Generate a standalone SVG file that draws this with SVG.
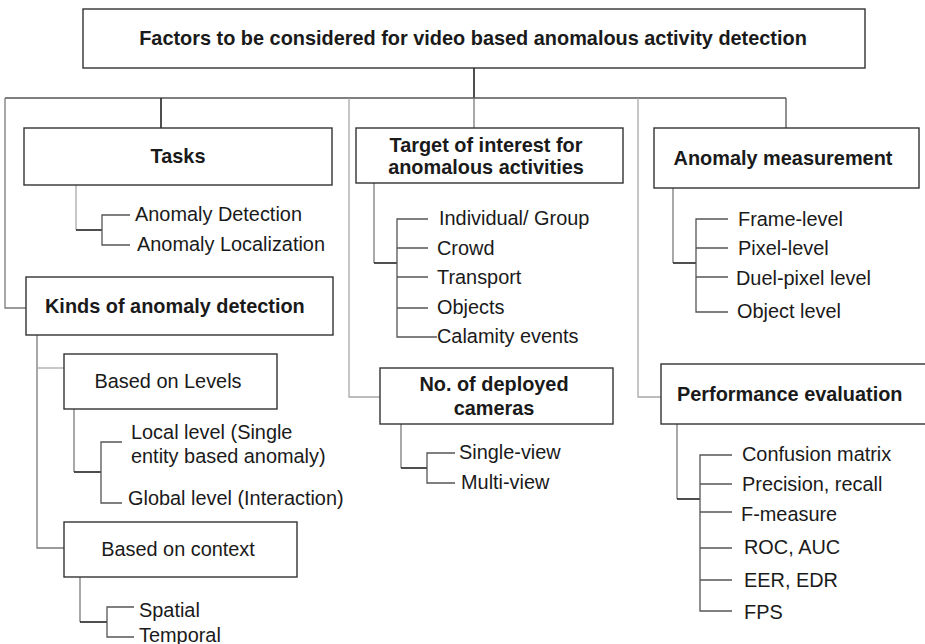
<svg xmlns="http://www.w3.org/2000/svg" width="925" height="644" viewBox="0 0 925 644">
  <style>
    text { font-family: "Liberation Sans", Arial, sans-serif; font-size: 19.9px; fill: #1a1a1a; }
    .h { font-weight: bold; }
    .c { text-anchor: middle; }
    .box { fill: #ffffff; stroke: #333333; stroke-width: 1.4; }
    .ln { fill: none; stroke: #555555; stroke-width: 1.3; }
    .dk { stroke: #222222; stroke-width: 1.6; }
    .lt { stroke: #a8a8a8; }
    .md { stroke: #7a7a7a; }
  </style>
  <rect width="925" height="644" fill="#ffffff"/>

  <!-- connectors -->
  <g id="connectors">
    <!-- root to top-level bus -->
    <path class="ln dk" d="M474 68V98"/>
    <path class="ln" d="M5 98H786"/>
    <path class="ln md" d="M5 98V308H26"/>
    <path class="ln dk" d="M161 98V128"/>
    <path class="ln lt" d="M349 98V397H380"/>
    <path class="ln md" d="M474 98V128"/>
    <path class="ln lt" d="M638 98V397H661"/>
    <path class="ln" d="M786 98V128"/>

    <!-- tasks -->
    <path class="ln lt" d="M76 185V230"/>
    <path class="ln dk" d="M76 230H102"/>
    <path class="ln" d="M130 215H102V245H130"/>

    <!-- kinds of anomaly detection -->
    <path class="ln md" d="M37 335V548H64"/>
    <path class="ln lt" d="M37 368H64"/>
    <path class="ln md" d="M74 409V472"/>
    <path class="ln dk" d="M74 472H101"/>
    <path class="ln" d="M122 442H101V503H122"/>
    <path class="ln md" d="M80 577V622"/>
    <path class="ln dk" d="M80 622H107"/>
    <path class="ln" d="M134 607H107V637H134"/>

    <!-- target of interest -->
    <path class="ln md" d="M374 183V263"/>
    <path class="ln dk" d="M374 263H397"/>
    <path class="ln" d="M428 219H397V337H437"/>
    <path class="ln" d="M397 248H428M397 277H428M397 308H428"/>

    <!-- deployed cameras -->
    <path class="ln md" d="M401 424V468"/>
    <path class="ln dk" d="M401 468H427"/>
    <path class="ln" d="M455 453H427V483H455"/>

    <!-- anomaly measurement -->
    <path class="ln md" d="M673 188V263"/>
    <path class="ln dk" d="M673 263H696"/>
    <path class="ln" d="M728 219H696V312H728"/>
    <path class="ln" d="M696 248H728M696 277H728"/>

    <!-- performance evaluation -->
    <path class="ln md" d="M677 424V499"/>
    <path class="ln dk" d="M677 499H700"/>
    <path class="ln" d="M732 455H700V611H732"/>
    <path class="ln" d="M700 484H732M700 512H732M700 548H732M700 580H732"/>
  </g>

  <g id="root">
    <rect class="box" x="83" y="9" width="782" height="59"/>
    <text class="h c" x="473" y="45">Factors to be considered for video based anomalous activity detection</text>
  </g>

  <g id="tasks">
    <rect class="box" x="24" y="128" width="308" height="57"/>
    <text class="h c" x="178" y="163">Tasks</text>
    <text x="135" y="221">Anomaly Detection</text>
    <text x="137" y="251">Anomaly Localization</text>
  </g>

  <g id="kinds">
    <rect class="box" x="26" y="277" width="307" height="58"/>
    <text class="h" x="45" y="313">Kinds of anomaly detection</text>
  </g>

  <g id="levels">
    <rect class="box" x="64" y="354" width="213" height="55"/>
    <text class="c" x="168" y="388">Based on Levels</text>
    <text x="131" y="439">Local level (Single</text>
    <text x="131" y="463">entity based anomaly)</text>
    <text x="128" y="505">Global level (Interaction)</text>
  </g>

  <g id="context">
    <rect class="box" x="64" y="522" width="233" height="55"/>
    <text class="c" x="178" y="556">Based on context</text>
    <text x="139" y="617">Spatial</text>
    <text x="139" y="642">Temporal</text>
  </g>

  <g id="target">
    <rect class="box" x="356" y="128" width="267" height="55"/>
    <text class="h c" x="486" y="152">Target of interest for</text>
    <text class="h c" x="486" y="174">anomalous activities</text>
    <text x="439" y="225">Individual/ Group</text>
    <text x="437" y="255">Crowd</text>
    <text x="437" y="284">Transport</text>
    <text x="437" y="314">Objects</text>
    <text x="437" y="343">Calamity events</text>
  </g>

  <g id="cameras">
    <rect class="box" x="380" y="368" width="233" height="56"/>
    <text class="h c" x="494" y="391">No. of deployed</text>
    <text class="h c" x="494" y="415">cameras</text>
    <text x="459" y="459">Single-view</text>
    <text x="461" y="489">Multi-view</text>
  </g>

  <g id="measurement">
    <rect class="box" x="654" y="128" width="265" height="60"/>
    <text class="h c" x="783" y="165">Anomaly measurement</text>
    <text x="738" y="226">Frame-level</text>
    <text x="738" y="255">Pixel-level</text>
    <text x="736" y="285">Duel-pixel level</text>
    <text x="737" y="318">Object level</text>
  </g>

  <g id="performance">
    <rect class="box" x="661" y="364" width="280" height="60"/>
    <text class="h" x="677" y="401">Performance evaluation</text>
    <text x="742" y="461">Confusion matrix</text>
    <text x="742" y="491">Precision, recall</text>
    <text x="741" y="521">F-measure</text>
    <text x="744" y="554">ROC, AUC</text>
    <text x="744" y="587">EER, EDR</text>
    <text x="744" y="619">FPS</text>
  </g>
</svg>
